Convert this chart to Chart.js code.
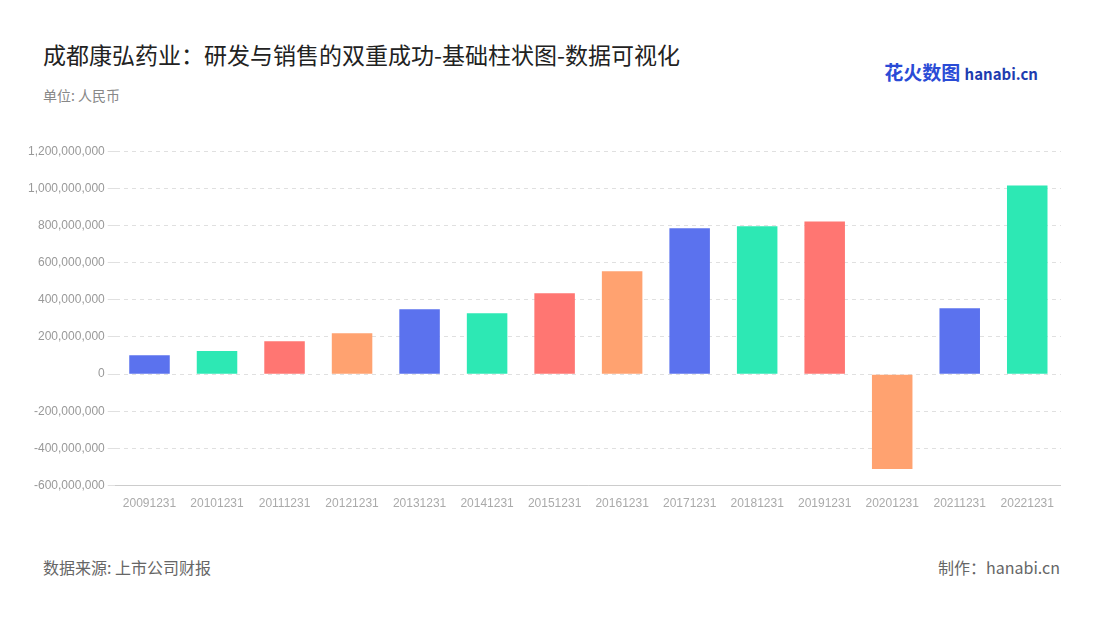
<!DOCTYPE html>
<html><head><meta charset="utf-8">
<script src="https://cdn.jsdelivr.net/npm/chart.js@4"></script>
<style>
body{margin:0;width:1100px;height:620px;background:#fff;font-family:"Noto Sans CJK SC","Noto Sans",sans-serif;position:relative;overflow:hidden}
.t{position:absolute;left:43px;top:37px;font-size:23px;color:#222}
.s{position:absolute;left:43px;top:85px;font-size:14px;color:#888}
.f1{position:absolute;left:43px;top:555px;font-size:16px;color:#666}
.f2{position:absolute;right:40px;top:555px;font-size:16px;color:#666}
.logo{position:absolute;right:62px;top:58px;font-size:19px;font-weight:bold;color:#2a4bd6}
.logo span{font-size:15px;color:#1e3cb0}
#wrap{position:absolute;left:25px;top:141px;width:1036px;height:373px}
</style></head><body>
<div class="t">成都康弘药业：研发与销售的双重成功-基础柱状图-数据可视化</div>
<div class="s">单位: 人民币</div>
<div class="logo">花火数图 <span>hanabi.cn</span></div>
<div id="wrap"><canvas id="c"></canvas></div>
<div class="f1">数据来源: 上市公司财报</div>
<div class="f2">制作：hanabi.cn</div>
<script>
const years = ['20091231','20101231','20111231','20121231','20131231','20141231','20151231','20161231','20171231','20181231','20191231','20201231','20211231','20221231'];
const profit = [102e6,124e6,177e6,220e6,349e6,328e6,435e6,554e6,785e6,796e6,822e6,-511e6,355e6,1016e6];
const palette = ['#5b72ee','#2de8b4','#ff7672','#ffa270'];

new Chart(document.getElementById('c'), {
    type: 'bar',
    data: {
        labels: years,
        datasets: [{
            data: profit,
            backgroundColor: years.map((y, i) => palette[i % 4]),
            categoryPercentage: 0.6,
            barPercentage: 1
        }]
    },
    options: {
        responsive: true,
        maintainAspectRatio: false,
        animation: false,
        plugins: { legend: { display: false }, tooltip: { enabled: false } },
        scales: {
            x: {
                grid: { display: false },
                border: { color: '#ccc' },
                ticks: { color: '#aaa', font: { size: 12 } }
            },
            y: {
                min: -600e6,
                max: 1200e6,
                ticks: {
                    stepSize: 200e6,
                    color: '#999',
                    font: { size: 12 },
                    callback: v => v.toLocaleString('en-US')
                },
                border: { display: false, dash: [4, 4] },
                grid: { color: '#e0e0e0' }
            }
        }
    }
});
</script>
</body></html>
